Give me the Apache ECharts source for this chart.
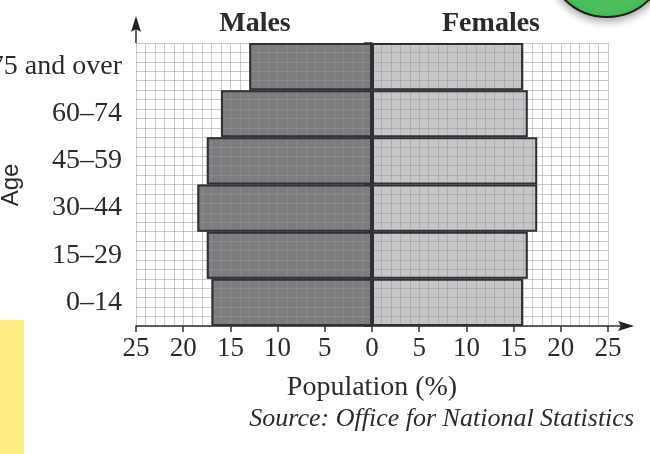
<!DOCTYPE html>
<html>
<head>
<meta charset="utf-8">
<script src="https://cdn.jsdelivr.net/npm/echarts@6/dist/echarts.min.js"></script>
<style>
  html, body { margin: 0; padding: 0; background: #fff; }
  #chart { width: 650px; height: 454px; }
</style>
</head>
<body>
<div id="chart"></div>
<script>
var ageGroups = ['0–14', '15–29', '30–44', '45–59', '60–74', '75 and over'];
var males = [17, 17.5, 18.5, 17.5, 16, 13];
var females = [16, 16.5, 17.5, 17.5, 16.5, 16];
var xTicks = [-25, -20, -15, -10, -5, 0, 5, 10, 15, 20, 25];

var serif = '"Liberation Serif", "DejaVu Serif", serif';
var textColor = '#2b2b2e';
var gridLine = 'rgba(150,150,150,0.5)';
var edge = '#303035';

var myChart = echarts.init(document.getElementById('chart'));

var maleNeg = males.map(function (v) { return -v; });

var option = {
    animation: false,
    backgroundColor: '#fff',
    title: [
        {
            text: 'Males', left: 255, top: 10, textAlign: 'center', padding: 0,
            textStyle: { fontFamily: serif, fontSize: 28, fontWeight: 'bold', color: textColor }
        },
        {
            text: 'Females', left: 491, top: 10, textAlign: 'center', padding: 0,
            textStyle: { fontFamily: serif, fontSize: 28, fontWeight: 'bold', color: textColor }
        }
    ],
    grid: { left: 136, right: 42, top: 43, bottom: 128, containLabel: false, outerBoundsMode: 'none' },
    xAxis: {
        type: 'value',
        min: xTicks[0],
        max: xTicks[xTicks.length - 1],
        interval: 5,
        z: 2,
        axisLine: { show: true, onZero: false, lineStyle: { color: edge, width: 1.5 } },
        axisTick: { show: true, length: 6, lineStyle: { color: edge, width: 1.5 } },
        axisLabel: {
            margin: 9,
            fontFamily: serif, fontSize: 27, color: textColor,
            formatter: function (v) { return Math.abs(v); }
        },
        splitLine: { show: true, lineStyle: { color: gridLine, width: 1 } },
        minorTick: { show: false, splitNumber: 5 },
        minorSplitLine: { show: true, lineStyle: { color: gridLine, width: 1 } },
        name: 'Population (%)',
        nameLocation: 'middle',
        nameGap: 48,
        nameTextStyle: { fontFamily: serif, fontSize: 28, color: textColor }
    },
    yAxis: [
        {
            type: 'category',
            data: ageGroups,
            z: 2,
            axisLine: { show: true, lineStyle: { color: edge, width: 1.5 } },
            axisTick: { show: true, length: 8, lineStyle: { color: edge, width: 1.5 } },
            axisLabel: { margin: 14, fontFamily: serif, fontSize: 28, color: textColor },
            splitLine: { show: false }
        },
        {
            // fine horizontal squares of the graph paper
            type: 'value',
            min: 0,
            max: 30,
            interval: 1,
            z: 2,
            axisLine: { show: false },
            axisTick: { show: false },
            axisLabel: { show: false },
            splitLine: { show: true, lineStyle: { color: gridLine, width: 1 } }
        }
    ],
    series: [
        {
            name: 'Males',
            type: 'bar',
            stack: 'fill',
            z: 1,
            barCategoryGap: '0%',
            barGap: '-100%',
            itemStyle: { color: '#7d7d80' },
            data: maleNeg
        },
        {
            name: 'Females',
            type: 'bar',
            stack: 'fill',
            z: 1,
            itemStyle: { color: '#c6c6c8' },
            data: females
        },
        {
            name: 'Males edge',
            type: 'bar',
            stack: 'edge',
            z: 3,
            itemStyle: { color: 'rgba(0,0,0,0)', borderColor: edge, borderWidth: 2 },
            data: maleNeg
        },
        {
            name: 'Females edge',
            type: 'bar',
            stack: 'edge',
            z: 3,
            itemStyle: { color: 'rgba(0,0,0,0)', borderColor: edge, borderWidth: 2 },
            data: females
        }
    ],
    graphic: [
        {
            type: 'rect', z: -1,
            shape: { x: 0, y: 320, width: 24, height: 134 },
            style: { fill: '#fdec80' }
        },
        {
            type: 'circle', z: 10,
            shape: { cx: 607, cy: -43, r: 60 },
            style: {
                fill: '#4cbe5c', stroke: '#1e1e1e', lineWidth: 2,
                shadowBlur: 8, shadowColor: 'rgba(0,0,0,0.35)', shadowOffsetY: 3
            }
        },
        // axis arrows
        {
            type: 'line', z: 10,
            shape: { x1: 136, y1: 43, x2: 136, y2: 24 },
            style: { stroke: edge, lineWidth: 1.5 }
        },
        {
            type: 'polygon', z: 10,
            shape: { points: [[136, 16], [131, 32], [136, 29], [141, 32]] },
            style: { fill: '#222' }
        },
        {
            type: 'line', z: 10,
            shape: { x1: 608, y1: 326, x2: 626, y2: 326 },
            style: { stroke: edge, lineWidth: 1.5 }
        },
        {
            type: 'polygon', z: 10,
            shape: { points: [[634, 326], [618, 321], [621, 326], [618, 331]] },
            style: { fill: '#222' }
        },
        {
            type: 'text', z: 10,
            x: 11, y: 185, rotation: Math.PI / 2,
            style: {
                text: 'Age',
                font: '24px "Liberation Sans", Arial, sans-serif',
                fill: textColor,
                align: 'center',
                verticalAlign: 'middle'
            }
        },
        {
            type: 'text', z: 10,
            right: 16, top: 406,
            style: {
                text: 'Source: Office for National Statistics',
                font: 'italic 26px ' + serif,
                fill: textColor
            }
        }
    ]
};

myChart.setOption(option);

window.onresize = function () {
    myChart.resize();
};
</script>
</body>
</html>
